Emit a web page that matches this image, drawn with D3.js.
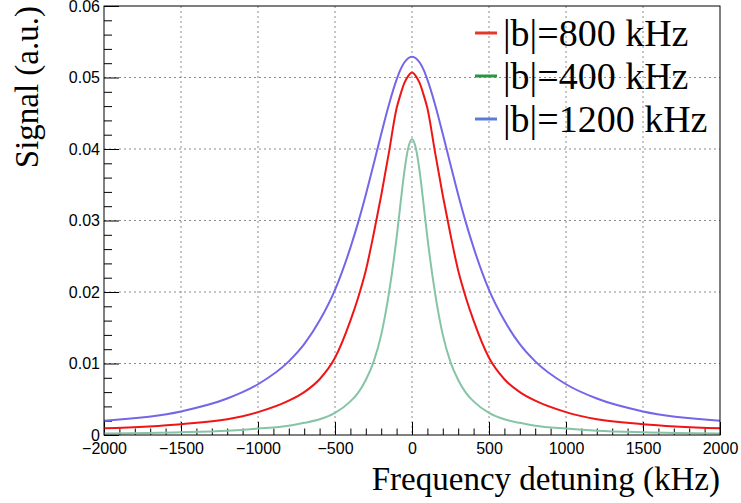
<!DOCTYPE html>
<html>
<head>
<meta charset="utf-8">
<script src="https://cdn.jsdelivr.net/npm/d3@7"></script>
<style>
body { margin: 0; background: #fff; }
svg { display: block; }
.tick text { font-family: "Liberation Sans", Arial, sans-serif; font-size: 16px; fill: #000; }
</style>
</head>
<body>
<svg id="chart" width="741" height="503"></svg>
<script>
// data (kHz, a.u.)
var freq = [-2000, -1500, -1200, -1000, -800, -700, -600, -500, -400, -350, -300, -250, -200, -150, -100, -75, -50, -25, 0,
            25, 50, 75, 100, 150, 200, 250, 300, 350, 400, 500, 600, 700, 800, 1000, 1200, 1500, 2000];
var b800 = [0.00093, 0.00152, 0.0022, 0.0032, 0.0048, 0.0060, 0.0078, 0.0108, 0.0160, 0.0192, 0.0230, 0.0280, 0.0335, 0.0395, 0.0457, 0.0476, 0.0492, 0.0502, 0.0507,
            0.0502, 0.0492, 0.0476, 0.0457, 0.0395, 0.0335, 0.0280, 0.0230, 0.0192, 0.0160, 0.0108, 0.0078, 0.0060, 0.0048, 0.0032, 0.0022, 0.00152, 0.00093];
var b400 = [0.00022, 0.00038, 0.0006, 0.0009, 0.0013, 0.0017, 0.0022, 0.0031, 0.0047, 0.0059, 0.0077, 0.0102, 0.0140, 0.0198, 0.0276, 0.0323, 0.0368, 0.0401, 0.0414,
            0.0401, 0.0368, 0.0323, 0.0276, 0.0198, 0.0140, 0.0102, 0.0077, 0.0059, 0.0047, 0.0031, 0.0022, 0.0017, 0.0013, 0.0009, 0.0006, 0.00038, 0.00022];
var b1200 = [0.0020, 0.0033, 0.0051, 0.0071, 0.0103, 0.0127, 0.0160, 0.0203, 0.0262, 0.0297, 0.0336, 0.0378, 0.0421, 0.0462, 0.0497, 0.0511, 0.0521, 0.0527, 0.0529,
             0.0527, 0.0521, 0.0511, 0.0497, 0.0462, 0.0421, 0.0378, 0.0336, 0.0297, 0.0262, 0.0203, 0.0160, 0.0127, 0.0103, 0.0071, 0.0051, 0.0033, 0.0020];
var legendNames = ['|b|=800 kHz', '|b|=400 kHz', '|b|=1200 kHz'];
var xTicks = [-2000, -1500, -1000, -500, 0, 500, 1000, 1500, 2000];
var yTicks = [0, 0.01, 0.02, 0.03, 0.04, 0.05, 0.06];

// plot frame (window.top is taken, so prefixed names)
var pLeft = 104, pRight = 720, pTop = 6, pBottom = 435;

const svg = d3.select('#chart');
const x = d3.scaleLinear().domain([-2000, 2000]).range([pLeft, pRight]);
const y = d3.scaleLinear().domain([0, 0.06]).range([pBottom, pTop]);

// grid
const grid = svg.append('g').attr('stroke', '#8c8c8c').attr('stroke-width', 1).attr('stroke-dasharray', '2,3');
grid.selectAll('.gx').data(xTicks.slice(1, -1)).enter().append('line')
    .attr('x1', d => x(d)).attr('x2', d => x(d)).attr('y1', pTop).attr('y2', pBottom);
grid.selectAll('.gy').data(yTicks.slice(1, -1)).enter().append('line')
    .attr('x1', pLeft).attr('x2', pRight).attr('y1', d => y(d)).attr('y2', d => y(d));

// minor ticks
var xMinor = d3.range(-2000, 2001, 100).filter(v => v % 500 != 0);
var yMinor = d3.range(0, 61, 2).map(v => v / 1000).filter((v, i) => i % 5 != 0);

svg.append('g').attr('transform', `translate(0,${pBottom})`)
    .call(d3.axisBottom(x).tickValues(xMinor).tickSize(-6.5).tickFormat(''))
    .call(g => g.select('.domain').remove());
svg.append('g').attr('transform', `translate(${pLeft},0)`)
    .call(d3.axisLeft(y).tickValues(yMinor).tickSize(-8).tickFormat(''))
    .call(g => g.select('.domain').remove());

// major ticks + labels
svg.append('g').attr('transform', `translate(0,${pBottom})`)
    .call(d3.axisBottom(x).tickValues(xTicks).tickSize(-13).tickPadding(8).tickFormat(d3.format('d')))
    .call(g => g.select('.domain').remove())
    .call(g => g.selectAll('text').attr('dy', '0.71em').attr('y', 8));
svg.append('g').attr('transform', `translate(${pLeft},0)`)
    .call(d3.axisLeft(y).tickValues(yTicks).tickSize(-15).tickPadding(4).tickFormat(d => d == 0 ? '0' : d3.format('.2f')(d)))
    .call(g => g.select('.domain').remove());

// curves
const line = d3.line().x((d, i) => x(freq[i])).y(d => y(d)).curve(d3.curveMonotoneX);
var series = [
    {v: b1200, c: '#7466e8'},
    {v: b800, c: '#f01515'},
    {v: b400, c: '#86c4a6'}
];
svg.append('g').selectAll('path').data(series).enter().append('path')
    .attr('d', d => line(d.v))
    .attr('fill', 'none')
    .attr('stroke', d => d.c)
    .attr('stroke-width', 2);

// frame
svg.append('rect').attr('x', pLeft).attr('y', pTop).attr('width', pRight - pLeft).attr('height', pBottom - pTop)
    .attr('fill', 'none').attr('stroke', '#000').attr('stroke-width', 1);

// legend
var legendColors = ['#e03a2a', '#2b9443', '#5a7cd8'];
const leg = svg.append('g');
legendNames.forEach(function(name, i) {
    var by = 46 + i * 43;
    leg.append('line').attr('x1', 475).attr('x2', 497).attr('y1', by - 13).attr('y2', by - 13)
        .attr('stroke', legendColors[i]).attr('stroke-width', 3);
    leg.append('text').attr('x', 503).attr('y', by).text(name)
        .attr('font-family', '"Liberation Serif", "Times New Roman", serif').attr('font-size', 38);
});

// axis titles
svg.append('text').attr('x', pRight).attr('y', 490).attr('text-anchor', 'end')
    .attr('font-family', '"Liberation Serif", "Times New Roman", serif').attr('font-size', 33)
    .text('Frequency detuning (kHz)');
svg.append('text').attr('transform', `translate(38,${pTop}) rotate(-90)`).attr('text-anchor', 'end')
    .attr('font-family', '"Liberation Serif", "Times New Roman", serif').attr('font-size', 33)
    .text('Signal (a.u.)');
</script>
</body>
</html>
